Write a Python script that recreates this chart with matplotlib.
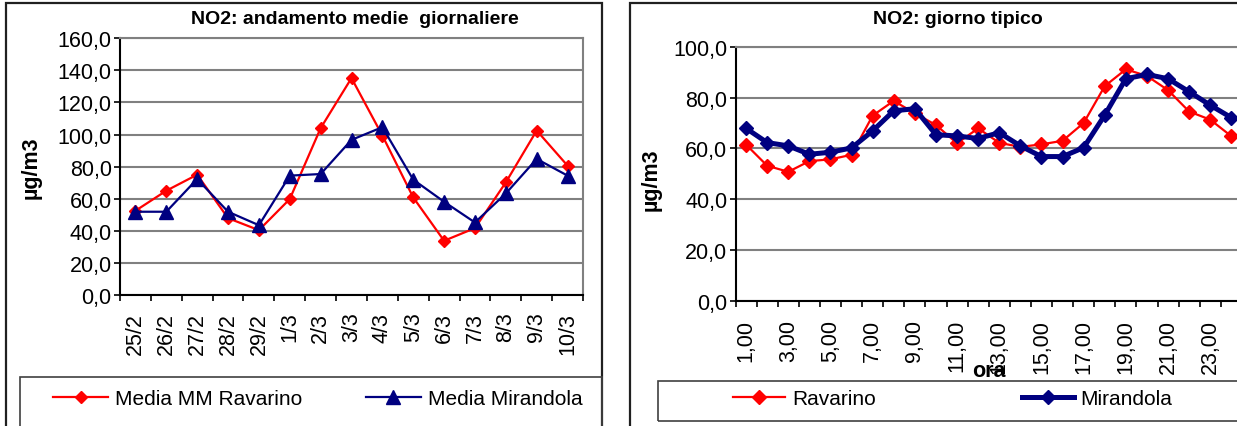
import matplotlib
matplotlib.use("Agg")
import matplotlib.pyplot as plt
from matplotlib.patches import Rectangle

plt.rcParams['font.family'] = ['Liberation Sans', 'DejaVu Sans']

# ---------------- data ----------------
days = ["25/2", "26/2", "27/2", "28/2", "29/2", "1/3", "2/3", "3/3", "4/3",
        "5/3", "6/3", "7/3", "8/3", "9/3", "10/3"]
media_ravarino = [52.5, 65.0, 75.0, 47.9, 40.4, 59.8, 104.0, 135.2, 99.4,
                  60.8, 33.8, 41.7, 70.2, 102.5, 80.6]
media_mirandola = [51.9, 51.9, 72.3, 51.9, 43.5, 74.4, 75.4, 96.7, 104.6,
                   71.9, 58.1, 45.2, 63.3, 84.8, 74.4]

hours = list(range(1, 25))
ravarino = [61.5, 53.2, 50.8, 55.0, 55.7, 57.5, 72.9, 78.7, 73.8, 69.2, 62.0, 67.9,
            62.2, 60.6, 61.6, 63.0, 70.0, 84.5, 91.1, 88.5, 82.9, 74.5, 71.3, 64.8]
mirandola = [67.9, 62.3, 61.0, 57.7, 58.5, 60.2, 66.9, 74.8, 75.6, 65.4, 64.9, 63.9,
             66.2, 61.0, 56.8, 56.8, 60.3, 73.1, 87.4, 89.1, 87.4, 82.3, 77.0, 72.1]

left_yticks = [0, 20, 40, 60, 80, 100, 120, 140, 160]
right_yticks = [0, 20, 40, 60, 80, 100]

title_left = "NO2: andamento medie  giornaliere"
title_right = "NO2: giorno tipico"
ylabel = "µg/m3"
xlabel_right = "ora"

RED = "#FF0000"
NAVY = "#000080"
GRID = "#808080"

W, H = 1237, 427
DPI = 100
fig = plt.figure(figsize=(W / DPI, H / DPI), dpi=DPI)
fig.patch.set_facecolor("white")


def rect(x0, y_top, x1, y_bot):
    return [x0 / W, 1 - y_bot / H, (x1 - x0) / W, (y_bot - y_top) / H]


def fmt(v, nd):
    return f"{v:.{nd}f}".replace(".", ",")


def style_axes(ax, n, yticks, label_every=1, labels=None, xpad=12):
    ax.set_xlim(-0.5, n - 0.5)
    ax.set_ylim(yticks[0], yticks[-1])
    ax.set_yticks(yticks)
    ax.set_yticklabels([fmt(v, 1) for v in yticks], fontsize=15.5)
    ax.yaxis.grid(True, color=GRID, linewidth=1.5)
    ax.set_axisbelow(True)
    ax.tick_params(axis="y", direction="out", length=4, width=1.2, pad=2, colors="black")
    pos = list(range(0, n, label_every))
    ax.set_xticks(pos)
    ax.set_xticklabels([labels[i] for i in pos], rotation=90, fontsize=15.5,
                       ha="center", va="top")
    ax.set_xticks([i - 0.5 for i in range(n + 1)], minor=True)
    ax.tick_params(axis="x", which="major", length=0, pad=xpad)
    ax.tick_params(axis="x", which="minor", direction="out", length=4.5, width=1.2)
    for s in ("left", "bottom"):
        ax.spines[s].set_color("black")
        ax.spines[s].set_linewidth(1.5)
    for s in ("top", "right"):
        ax.spines[s].set_color(GRID)
        ax.spines[s].set_linewidth(1.5)


# ---------------- outer frames ----------------
fig.patches.append(Rectangle((6 / W, -0.05), (602 - 6) / W, 1.05 - 4 / H,
                             transform=fig.transFigure, fill=False,
                             edgecolor="#202020", linewidth=1.6))
fig.patches.append(Rectangle((630 / W, -0.05), 0.5, 1.05 - 4 / H,
                             transform=fig.transFigure, fill=False,
                             edgecolor="#202020", linewidth=1.6))
# legend boxes
fig.patches.append(Rectangle((20 / W, -0.05), (602 - 20) / W, 0.05 + (1 - 378 / H),
                             transform=fig.transFigure, fill=False,
                             edgecolor="#404040", linewidth=1.2))
fig.patches.append(Rectangle((658 / W, 1 - 422 / H), 0.5, (422 - 382) / H,
                             transform=fig.transFigure, fill=False,
                             edgecolor="#404040", linewidth=1.2))

# ---------------- left chart ----------------
ax1 = fig.add_axes(rect(120, 39.3, 583, 296))
x1 = list(range(len(days)))
l1, = ax1.plot(x1, media_ravarino, color=RED, linewidth=1.6, marker="D",
               markersize=6.5, markerfacecolor=RED, markeredgecolor=RED,
               label="Media MM Ravarino", clip_on=False, zorder=3)
l2, = ax1.plot(x1, media_mirandola, color=NAVY, linewidth=1.6, marker="^",
               markersize=9.5, markerfacecolor=NAVY, markeredgecolor=NAVY,
               label="Media Mirandola", clip_on=False, zorder=4)
style_axes(ax1, len(days), left_yticks, 1, days, xpad=12)

fig.text(355 / W, 1 - 19 / H, title_left, fontsize=14, fontweight="bold",
         ha="center", va="center")
fig.text(31 / W, 1 - 168 / H, ylabel, fontsize=15.5, fontweight="bold",
         rotation=90, ha="center", va="center")

fig.legend(handles=[l1, l2], loc="center left",
           bbox_to_anchor=(53 / W, 1 - 400 / H), bbox_transform=fig.transFigure,
           ncol=2, frameon=False, fontsize=15, borderpad=0, borderaxespad=0,
           handlelength=2.65, handletextpad=0.33, columnspacing=3.05, numpoints=1)

# ---------------- right chart ----------------
ax2 = fig.add_axes(rect(735.5, 47.7, 735.5 + 24 * 21.1, 302))
x2 = list(range(len(hours)))
hour_labels = [fmt(h, 2) for h in hours]
r1, = ax2.plot(x2, ravarino, color=RED, linewidth=1.6, marker="D",
               markersize=7, markerfacecolor=RED, markeredgecolor=RED,
               label="Ravarino", zorder=3)
r2, = ax2.plot(x2, mirandola, color=NAVY, linewidth=3.6, marker="D",
               markersize=7, markerfacecolor=NAVY, markeredgecolor=NAVY,
               label="Mirandola", zorder=4)
style_axes(ax2, len(hours), right_yticks, 2, hour_labels, xpad=13)

fig.text(958 / W, 1 - 19 / H, title_right, fontsize=14, fontweight="bold",
         ha="center", va="center")
fig.text(651 / W, 1 - 180 / H, ylabel, fontsize=15.5, fontweight="bold",
         rotation=90, ha="center", va="center")
fig.text(989 / W, 1 - 372 / H, xlabel_right, fontsize=15.5, fontweight="bold",
         ha="center", va="center")

fig.legend(handles=[r1, r2], loc="center left",
           bbox_to_anchor=(733 / W, 1 - 400 / H), bbox_transform=fig.transFigure,
           ncol=2, frameon=False, fontsize=15, borderpad=0, borderaxespad=0,
           handlelength=2.5, handletextpad=0.33, columnspacing=7.0, numpoints=1)

fig.savefig("out.png", dpi=DPI)
